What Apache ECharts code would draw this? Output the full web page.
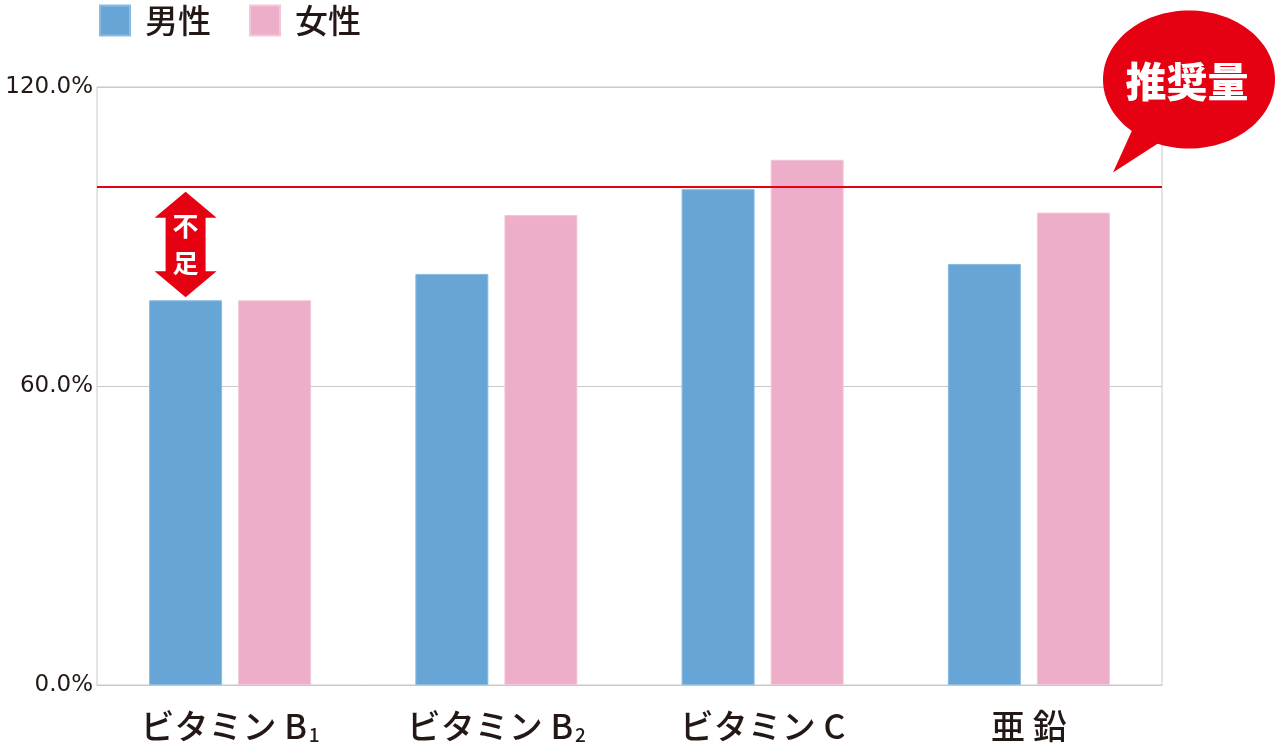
<!DOCTYPE html>
<html>
<head>
<meta charset="utf-8">
<script src="https://cdn.jsdelivr.net/npm/echarts@6/dist/echarts.min.js"></script>
<style>
    html, body {margin: 0; padding: 0; background: #fff;}
    #chart {width: 1280px; height: 748px;}
</style>
</head>
<body>
<div id="chart"></div>
<script>
"use strict";
// 摂取量 / 推奨量 (%)
var categories = ['ビタミンB1', 'ビタミンB2', 'ビタミンC', '亜鉛'];
var seriesNames = ['男性', '女性'];
var maleValues = [77.2, 82.5, 99.5, 84.5];
var femaleValues = [77.2, 94.3, 105.4, 94.8];
var recommended = 100;
var yMin = 0, yMax = 120, yStep = 60;

var TEXT = '#231815';
var RED = '#e50012';
var BLUE = '#66a5d6';
var PINK = '#edaec9';
var GRID_LEFT = 97, GRID_RIGHT = 118, GRID_TOP = 87, GRID_BOTTOM = 63;
var JP = '"Noto Sans CJK JP", "Noto Sans", sans-serif';

var chart = echarts.init(document.getElementById('chart'));

function categoryLabel(name) {
    // ビタミンB1 -> "ビタミン B" + subscript 1, 亜鉛 -> 亜 鉛
    var m = name.match(/^(ビタミン)([A-Z])(\d?)$/);
    if (m) {
        return m[1] + ' ' + m[2] + (m[3] ? '{sub|' + m[3] + '}' : '');
    }
    return name.split('').join(' ');
}

var option = {
    animation: false,
    color: [BLUE, PINK],
    textStyle: {fontFamily: JP, color: TEXT},
    legend: {
        left: 99, top: 4, padding: 0, itemWidth: 30, itemHeight: 30, itemGap: 38, icon: 'rect',
        textStyle: {fontSize: 33, fontWeight: 500, color: TEXT, fontFamily: JP, padding: [0, 0, 0, 10]},
        data: seriesNames
    },
    grid: {
        left: GRID_LEFT, right: GRID_RIGHT, top: GRID_TOP, bottom: GRID_BOTTOM,
        show: true, borderColor: '#c9c9c9', borderWidth: 1, containLabel: false
    },
    xAxis: {
        type: 'category', data: categories,
        axisTick: {show: false},
        axisLine: {lineStyle: {color: '#c9c9c9'}},
        axisLabel: {
            interval: 0, margin: 24, fontSize: 34, fontWeight: 500, color: TEXT, fontFamily: JP,
            formatter: categoryLabel,
            rich: {sub: {fontSize: 19, fontWeight: 500, fontFamily: JP, color: TEXT, verticalAlign: 'bottom', padding: [16, 0, 0, 2]}}
        }
    },
    yAxis: {
        type: 'value', min: yMin, max: yMax, interval: yStep,
        axisLine: {show: false}, axisTick: {show: false},
        splitLine: {lineStyle: {color: '#c9c9c9'}},
        axisLabel: {
            margin: 4, fontSize: 23, color: TEXT, fontFamily: '"DejaVu Sans", sans-serif',
            formatter: function (v) { return v.toFixed(1) + '%'; }
        }
    },
    series: [
        {
            name: seriesNames[0], type: 'bar', barWidth: 73, barGap: '22%',
            itemStyle: {color: BLUE, borderColor: '#8bbbe1', borderWidth: 1},
            data: maleValues,
            markLine: {
                silent: true, symbol: ['none', 'none'], label: {show: false},
                lineStyle: {color: RED, width: 2, type: 'solid'},
                data: [{yAxis: recommended}]
            }
        },
        {
            name: seriesNames[1], type: 'bar', barWidth: 73,
            itemStyle: {color: PINK, borderColor: '#f3c6d9', borderWidth: 1},
            data: femaleValues
        }
    ]
};
chart.setOption(option);

// 注釈: 不足の矢印 (ビタミンB1 男性の棒の上から推奨量の線まで) と 推奨量 の吹き出し
function addNotes() {
    var bar = chart.getModel().getSeriesByIndex(0).getData().getItemLayout(0);
    var cx = bar.x + bar.width / 2;
    var y1 = chart.convertToPixel({yAxisIndex: 0}, recommended) + 5;
    var y2 = chart.convertToPixel({yAxisIndex: 0}, maleValues[0]) - 3;
    var hw = 31, sw = 20, hh = 26;
    var arrow = [
        [cx, y1], [cx + hw, y1 + hh], [cx + sw, y1 + hh], [cx + sw, y2 - hh], [cx + hw, y2 - hh],
        [cx, y2], [cx - hw, y2 - hh], [cx - sw, y2 - hh], [cx - sw, y1 + hh], [cx - hw, y1 + hh]
    ];
    var midY = (y1 + y2) / 2;

    var y120 = chart.convertToPixel({yAxisIndex: 0}, yMax);
    var gridRightX = 1280 - GRID_RIGHT;
    var bx = gridRightX + 27, by = y120 - 7.5;

    chart.setOption({
        graphic: [
            {type: 'polygon', shape: {points: arrow}, style: {fill: RED}, z: 10},
            {type: 'text', x: cx, y: midY - 18, z: 11,
                style: {text: '不', fill: '#fff', font: 'bold 26px ' + JP, align: 'center', verticalAlign: 'middle'}},
            {type: 'text', x: cx, y: midY + 19, z: 11,
                style: {text: '足', fill: '#fff', font: 'bold 26px ' + JP, align: 'center', verticalAlign: 'middle'}},
            {type: 'polygon', z: 10,
                shape: {points: [[bx - 57, by + 51], [bx - 76, by + 93], [bx - 28, by + 62]]}, style: {fill: RED}},
            {type: 'ellipse', z: 10, shape: {cx: bx, cy: by, rx: 86, ry: 69}, style: {fill: RED}},
            {type: 'text', x: bx - 2, y: by + 2, z: 11,
                style: {text: '推奨量', fill: '#fff', font: '900 41px ' + JP, align: 'center', verticalAlign: 'middle'}}
        ]
    });
}
addNotes();
</script>
</body>
</html>
